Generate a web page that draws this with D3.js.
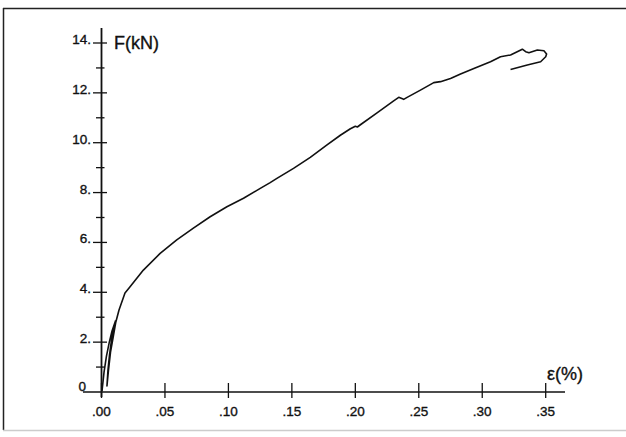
<!DOCTYPE html>
<html><head><meta charset="utf-8">
<script src="https://cdn.jsdelivr.net/npm/d3@7"></script>
<style>body{margin:0;background:#fff}svg{display:block}</style>
</head><body>
<script>
// strain (%) and force (kN)
const strain = [0.0004,0.0020,0.0039,0.0062,0.0083,0.0110,0.0099,0.0079,0.0063,0.0051,0.0043,0.0055,0.0071,0.0091,0.0113,0.0138,0.0185,0.0225,0.0330,0.0462,0.0593,0.0724,0.0856,0.0988,0.1119,0.1251,0.1329,0.1382,0.1513,0.1645,0.1777,0.1882,0.1961,0.2000,0.2016,0.2040,0.2171,0.2302,0.2342,0.2381,0.2408,0.2513,0.2618,0.2671,0.2750,0.2829,0.2934,0.3065,0.3144,0.3223,0.3316,0.3342,0.3368,0.3434,0.3486,0.3507,0.3500,0.3460,0.3355,0.3223];
const force  = [0.04,0.80,1.44,2.01,2.45,2.85,2.61,2.09,1.48,0.88,0.24,0.88,1.60,2.17,2.81,3.29,3.97,4.22,4.89,5.56,6.10,6.57,7.03,7.43,7.77,8.17,8.40,8.57,8.97,9.41,9.91,10.30,10.56,10.66,10.63,10.72,11.20,11.68,11.82,11.74,11.82,12.11,12.41,12.45,12.58,12.76,12.98,13.25,13.45,13.52,13.75,13.65,13.61,13.72,13.69,13.56,13.45,13.25,13.12,12.94];
const xTicks = [0,0.05,0.10,0.15,0.20,0.25,0.30,0.35];
const xTickLabels = [".00",".05",".10",".15",".20",".25",".30",".35"];
const yMajor = [2,4,6,8,10,12,14];
const yMajorLabels = ["2.","4.","6.","8.","10.","12.","14."];
const yMinor = [1,3,5,7,9,11,13];
const yAxisTitle = "F(kN)";
const xAxisTitle = "ε(%)";

const W = 626, H = 437;
const svg = d3.select("body").append("svg").attr("width", W).attr("height", H);
const x = d3.scaleLinear().domain([0, 0.35]).range([101.5, 545.7]);
const y = d3.scaleLinear().domain([0, 14]).range([392, 43]);
const ink = "#111";
const font = "Liberation Sans, Arial, Helvetica, sans-serif";

// frame
svg.append("line").attr("x1", 3).attr("x2", W).attr("y1", 8.5).attr("y2", 8.5).attr("stroke", "#222").attr("stroke-width", 1.5);
svg.append("line").attr("x1", 3.5).attr("x2", 3.5).attr("y1", 8).attr("y2", 430).attr("stroke", "#222").attr("stroke-width", 1.5);
svg.append("line").attr("x1", 3).attr("x2", W).attr("y1", 430.5).attr("y2", 430.5).attr("stroke", "#ccc").attr("stroke-width", 1.5);

// axes lines
svg.append("line").attr("x1", 83).attr("x2", 565).attr("y1", y(0)).attr("y2", y(0)).attr("stroke", ink).attr("stroke-width", 1.6);
svg.append("line").attr("x1", x(0)).attr("x2", x(0)).attr("y1", 28).attr("y2", 397).attr("stroke", ink).attr("stroke-width", 1.8);

const txt = sel => sel.attr("font-family", font).attr("fill", ink).attr("stroke", ink).attr("stroke-width", 0.35);

// x ticks
const gx = svg.append("g");
gx.selectAll("line").data(xTicks).join("line")
  .attr("x1", d => x(d)).attr("x2", d => x(d)).attr("y1", y(0) - 9).attr("y2", y(0) + 6)
  .attr("stroke", ink).attr("stroke-width", 1.3);
gx.selectAll("text").data(xTicks).join("text")
  .attr("x", d => x(d)).attr("y", 416).attr("text-anchor", "middle")
  .attr("font-size", 13.5).call(txt)
  .text((d, i) => xTickLabels[i]);

// y ticks
const gy = svg.append("g");
gy.selectAll("line.maj").data(yMajor).join("line").attr("class", "maj")
  .attr("x1", 93).attr("x2", 107).attr("y1", d => y(d)).attr("y2", d => y(d))
  .attr("stroke", ink).attr("stroke-width", 1.3);
gy.selectAll("line.min").data(yMinor).join("line").attr("class", "min")
  .attr("x1", 96).attr("x2", 104.5).attr("y1", d => y(d)).attr("y2", d => y(d))
  .attr("stroke", ink).attr("stroke-width", 1.3);
gy.selectAll("text").data(yMajor).join("text")
  .attr("x", 91).attr("y", d => y(d) + 1).attr("text-anchor", "end")
  .attr("font-size", 13.5).call(txt)
  .text((d, i) => yMajorLabels[i]);
svg.append("text").attr("x", 86).attr("y", y(0) - 1).attr("text-anchor", "end")
  .attr("font-size", 13.5).call(txt).text("0");

// titles
svg.append("text").attr("x", 114).attr("y", 49).attr("font-size", 18).call(txt).text(yAxisTitle);
svg.append("text").attr("x", 547).attr("y", 380).attr("font-size", 18).call(txt).text(xAxisTitle);

// curve
const pts = strain.map((s, i) => [s, force[i]]);
svg.append("path").datum(pts)
  .attr("d", d3.line().x(d => x(d[0])).y(d => y(d[1])))
  .attr("fill", "none").attr("stroke", ink).attr("stroke-width", 1.6).attr("stroke-linejoin", "round");
</script>
</body></html>
